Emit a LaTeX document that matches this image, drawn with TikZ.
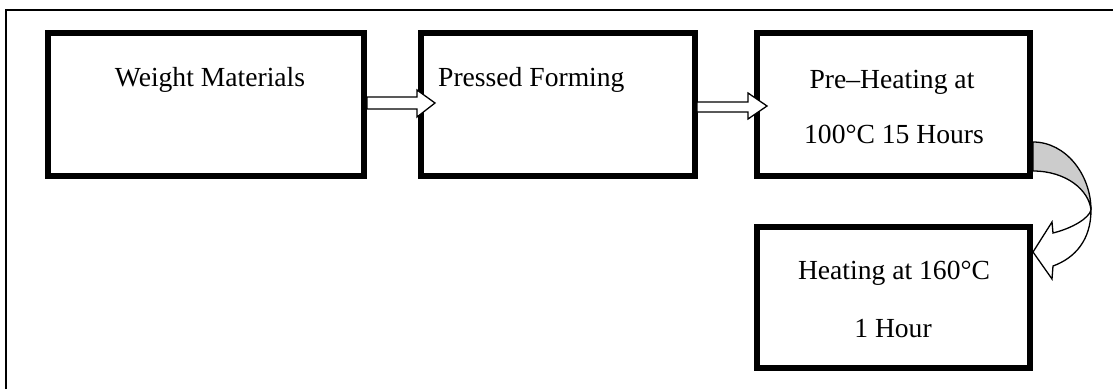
\documentclass[tikz,border=0pt]{standalone}
\usepackage{fontspec}
\setmainfont{Liberation Serif}
\begin{document}
\begin{tikzpicture}[x=1pt,y=-1pt,
  stepbox/.style={draw, line width=6pt, rectangle, inner sep=0pt, outer sep=0pt},
  boxtext/.style={anchor=base, inner sep=0pt, font=\fontsize{27.6}{33}\selectfont},
  blockarrow/.style={draw, line width=1.3pt, fill=white, line join=miter},
  curvearrow/.style={draw, line width=1.3pt, line join=miter}]
\useasboundingbox (0,0) rectangle (1113,389);
% outer frame (partially visible)
\draw[line width=2pt] (6,389) -- (6,10) -- (1113,10);
% boxes
\node[stepbox, minimum width=316pt, minimum height=143pt] (b1) at (206,104.5) {};
\node[stepbox, minimum width=274pt, minimum height=143pt] (b2) at (558,104.5) {};
\node[stepbox, minimum width=273pt, minimum height=143pt] (b3) at (893.5,104.5) {};
\node[stepbox, minimum width=273pt, minimum height=141pt] (b4) at (893.5,297.5) {};
% texts
\node[boxtext] (t1) at (210,86) {Weight Materials};
\node[boxtext, anchor=base west] (t2) at (438,86) {Pressed Forming};
\node[boxtext] (t3a) at (892,88) {Pre–Heating at};
\node[boxtext] (t3b) at (894,143) {100°C 15 Hours};
\node[boxtext] (t4a) at (894,279) {Heating at 160°C};
\node[boxtext] (t4b) at (893,337) {1 Hour};
% block arrows (b1 -> b2, b2 -> b3)
\draw[blockarrow] (367,97) -- (417,97) -- (417,90) -- (435,103) -- (417,117) -- (417,109) -- (367,109) -- cycle;
\draw[blockarrow] (697,102) -- (748,102) -- (748,93) -- (767,106) -- (748,119) -- (748,112) -- (697,112) -- cycle;
% curved arrow b3 -> b4 (back, gray)
\draw[curvearrow, fill=gray!40] (1033,142) .. controls (1066,142) and (1091,175) .. (1091,210)
  .. controls (1089,190) and (1066,171) .. (1033,171) -- cycle;
% curved arrow (front, white)
\draw[curvearrow, fill=white] (1091,210) .. controls (1091,240) and (1075,258) .. (1053,266)
  -- (1052,279) -- (1033,252) -- (1052,222) -- (1053,233)
  .. controls (1073,228) and (1089,218) .. (1091,210) -- cycle;
\end{tikzpicture}
\end{document}
